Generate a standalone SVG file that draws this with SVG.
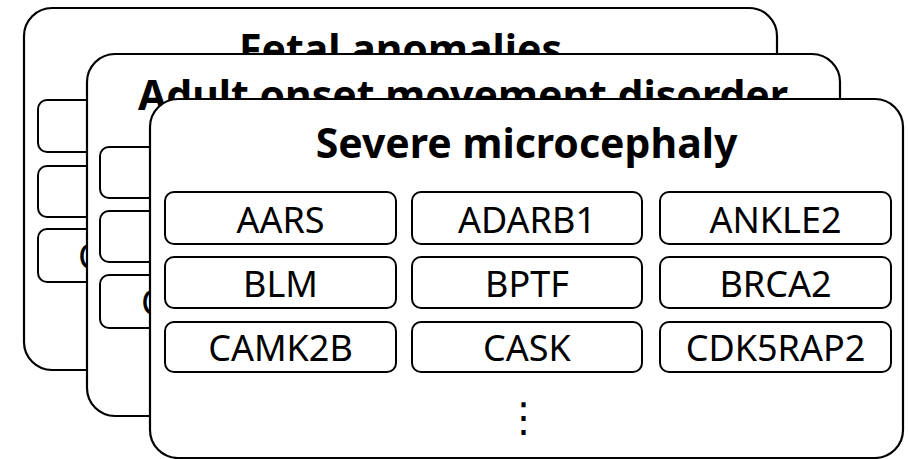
<svg xmlns="http://www.w3.org/2000/svg" width="908" height="459" viewBox="0 0 908 459">
<style>
.card{fill:#fff;stroke:#000;stroke-width:2.2}
.box{fill:#fff;stroke:#000;stroke-width:2}
.title{font-family:"Noto Sans","Liberation Sans",sans-serif;font-weight:bold;font-size:41px;text-anchor:middle;fill:#000}
.lbl{font-family:"Noto Sans","Liberation Sans",sans-serif;font-size:36px;text-anchor:middle;fill:#000}
.lbls{font-family:"Noto Sans","Liberation Sans",sans-serif;font-size:36px;fill:#000}
</style>
<rect width="908" height="459" fill="#fff"/>
<g id="card-fetal">
<rect class="card" x="24" y="8" width="753" height="362" rx="28"/>
<text class="title" x="400.5" y="64">Fetal anomalies</text>
<rect class="box" x="38" y="100" width="231" height="52" rx="9"/>
<rect class="box" x="38" y="166" width="231" height="51" rx="9"/>
<rect class="box" x="38" y="229" width="231" height="53" rx="9"/>
<text class="lbls" x="78" y="269">C</text>
</g>
<g id="card-adult">
<rect class="card" x="87" y="54" width="753" height="362" rx="28"/>
<text class="title" x="463" y="110">Adult onset movement disorder</text>
<rect class="box" x="100" y="147" width="231" height="51" rx="9"/>
<rect class="box" x="100" y="211" width="231" height="51" rx="9"/>
<rect class="box" x="100" y="275" width="231" height="53" rx="9"/>
<text class="lbls" x="141" y="315">C</text>
</g>
<g id="card-severe">
<rect class="card" x="150" y="99" width="753" height="359" rx="28"/>
<text class="title" x="526.5" y="158">Severe microcephaly</text>
<g id="gene-AARS"><rect class="box" x="165" y="192" width="231" height="52" rx="9"/><text class="lbl" x="280.5" y="232.5">AARS</text></g>
<g id="gene-ADARB1"><rect class="box" x="412" y="192" width="230" height="52" rx="9"/><text class="lbl" x="527" y="232.5">ADARB1</text></g>
<g id="gene-ANKLE2"><rect class="box" x="660" y="192" width="231" height="52" rx="9"/><text class="lbl" x="775.5" y="232.5">ANKLE2</text></g>
<g id="gene-BLM"><rect class="box" x="165" y="257" width="231" height="51" rx="9"/><text class="lbl" x="280.5" y="297">BLM</text></g>
<g id="gene-BPTF"><rect class="box" x="412" y="257" width="230" height="51" rx="9"/><text class="lbl" x="527" y="297">BPTF</text></g>
<g id="gene-BRCA2"><rect class="box" x="660" y="257" width="231" height="51" rx="9"/><text class="lbl" x="775.5" y="297">BRCA2</text></g>
<g id="gene-CAMK2B"><rect class="box" x="165" y="322" width="231" height="50" rx="9"/><text class="lbl" x="280.5" y="361">CAMK2B</text></g>
<g id="gene-CASK"><rect class="box" x="412" y="322" width="230" height="50" rx="9"/><text class="lbl" x="527" y="361">CASK</text></g>
<g id="gene-CDK5RAP2"><rect class="box" x="660" y="322" width="231" height="50" rx="9"/><text class="lbl" x="775.5" y="361">CDK5RAP2</text></g>
<text x="523.5" y="431" font-family="DejaVu Sans,sans-serif" font-size="40" text-anchor="middle">⋮</text>
</g>
<g id="connectors"></g>
</svg>
